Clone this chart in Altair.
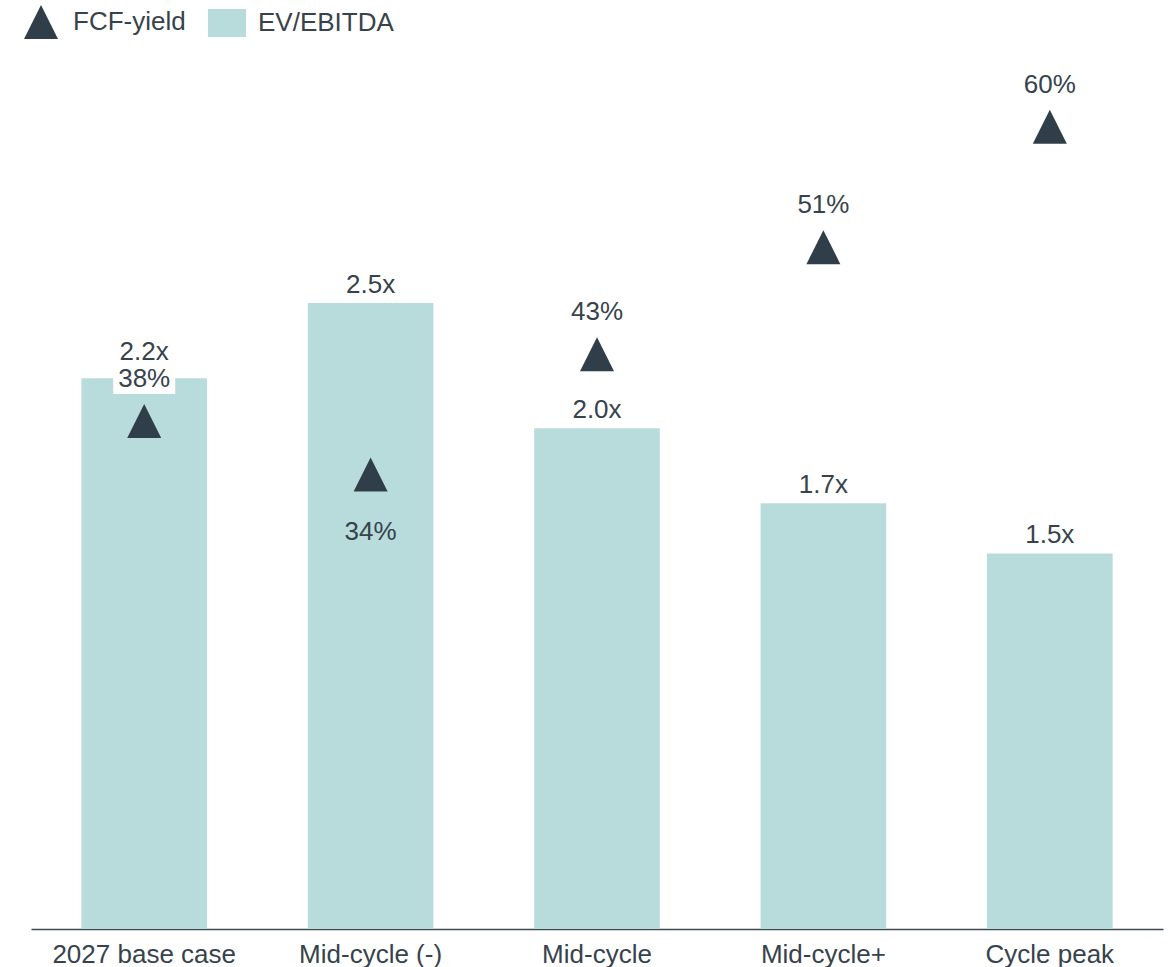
import altair as alt
import pandas as pd

# ---- data ----
categories = ["2027 base case", "Mid-cycle (-)", "Mid-cycle", "Mid-cycle+", "Cycle peak"]
ev_ebitda = [2.2, 2.5, 2.0, 1.7, 1.5]
fcf_yield = [0.38, 0.34, 0.43, 0.51, 0.60]
ev_labels = ["2.2x", "2.5x", "2.0x", "1.7x", "1.5x"]
fcf_labels = ["38%", "34%", "43%", "51%", "60%"]

df = pd.DataFrame({
    "category": categories,
    "ev": ev_ebitda,
    "fcf": fcf_yield,
    "ev_label": ev_labels,
    "fcf_label": fcf_labels,
})
df["s_ev"] = "EV/EBITDA"
df["s_fcf"] = "FCF-yield"

# ---- style ----
FONT = "Liberation Sans"
BAR = "#b8dcdb"
TRI = "#2f3e48"
TEXT = "#37434c"
AXIS = "#3f4a52"
TRIPATH = "M0,-1L1,1L-1,1Z"
RECT = "M-1,-0.737L1,-0.737L1,0.737L-1,0.737Z"
BOX = "M-1,-0.484L1,-0.484L1,0.484L-1,0.484Z"

base = alt.Chart(df)

x = alt.X(
    "category:N",
    sort=categories,
    scale=alt.Scale(paddingInner=0.445, paddingOuter=0.2225),
    axis=alt.Axis(
        title=None, labelAngle=0, ticks=False, tickSize=0, labelPadding=33,
        labelBaseline="alphabetic", labelFontSize=26, labelFont=FONT,
        labelColor=TEXT, domainColor=AXIS, domainWidth=1.5, grid=False,
        labelLimit=0, labelOverlap=False,
    ),
)
y_ev = alt.Y("ev:Q", scale=alt.Scale(domain=[0, 3.195], nice=False, zero=True), axis=None)
y_fcf = alt.Y("fcf:Q", scale=alt.Scale(domain=[0, 0.5984], nice=False, zero=True), axis=None)

bars = base.mark_bar().encode(
    x=x,
    y=y_ev,
    fill=alt.Fill(
        "s_ev:N",
        scale=alt.Scale(domain=["EV/EBITDA"], range=[BAR]),
        legend=alt.Legend(
            title=None, orient="none", legendX=177, legendY=-125,
            symbolType=RECT, symbolSize=1444, symbolStrokeWidth=0,
            symbolOpacity=1, labelFontSize=26, labelFont=FONT,
            labelColor=TEXT, labelOffset=12, padding=0,
        ),
    ),
)

text_style = dict(font=FONT, fontSize=26, color=TEXT, baseline="alphabetic", align="center")

bar_text = base.transform_filter(alt.datum.category != "2027 base case").mark_text(
    dy=-10, **text_style
).encode(x=x, y=y_ev, text="ev_label:N")

bar_text_first = base.transform_filter(alt.datum.category == "2027 base case").mark_text(
    dy=-18, **text_style
).encode(x=x, y=y_ev, text="ev_label:N")

box = base.transform_filter(alt.datum.category == "2027 base case").mark_point(
    shape=BOX, size=3844, filled=True, color="white", opacity=1, strokeWidth=0, yOffset=-42
).encode(x=x, y=y_fcf)

tri = base.mark_point(filled=True, opacity=1, size=1156, color=TRI, strokeWidth=0).encode(
    x=x,
    y=y_fcf,
    shape=alt.Shape(
        "s_fcf:N",
        scale=alt.Scale(domain=["FCF-yield"], range=[TRIPATH]),
        legend=alt.Legend(
            title=None, orient="none", legendX=-7, legendY=-124,
            symbolSize=1156, symbolFillColor=TRI, symbolStrokeWidth=0,
            symbolOpacity=1, labelFontSize=26, labelFont=FONT,
            labelColor=TEXT, labelOffset=15, padding=0,
        ),
    ),
)

fcf_text = base.transform_filter(alt.datum.category != "Mid-cycle (-)").mark_text(
    dy=-34, **text_style
).encode(x=x, y=y_fcf, text="fcf_label:N")

fcf_text_below = base.transform_filter(alt.datum.category == "Mid-cycle (-)").mark_text(
    dy=66, **text_style
).encode(x=x, y=y_fcf, text="fcf_label:N")

chart = (
    alt.layer(bars, bar_text, bar_text_first, box, tri, fcf_text, fcf_text_below)
    .resolve_scale(y="independent")
    .properties(
        width=1132,
        height=800,
        padding={"left": 31, "top": 129, "right": 8, "bottom": 38},
        autosize=alt.AutoSizeParams(type="none"),
    )
    .configure_view(stroke=None)
)

chart.save("out.html", embed_options={"renderer": "svg", "actions": False})
